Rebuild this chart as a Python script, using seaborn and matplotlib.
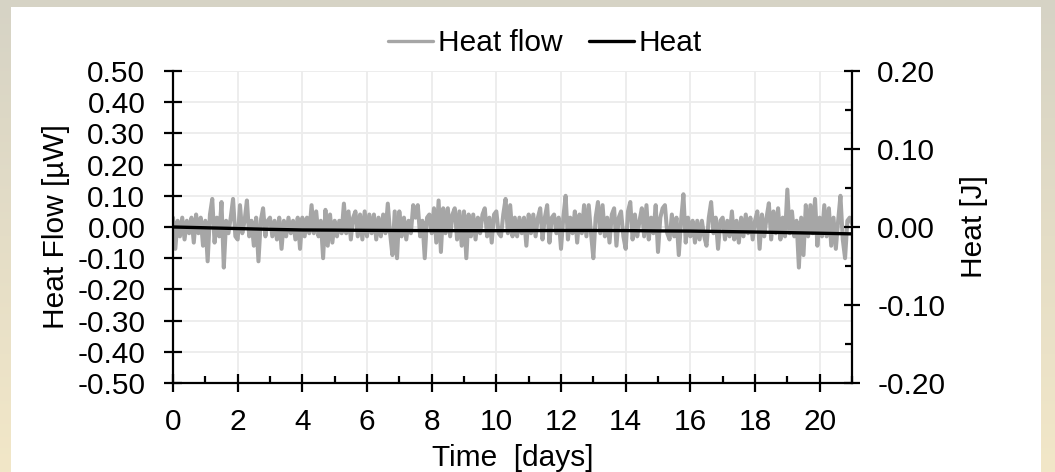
import numpy as np
import pandas as pd
import matplotlib
matplotlib.use("Agg")
import matplotlib.pyplot as plt
import seaborn as sns
from matplotlib.ticker import MultipleLocator, FuncFormatter
from matplotlib.patches import Rectangle
from matplotlib.lines import Line2D

# ---- data ----
samples_per_day = 14
heat_flow_rows = [
    [0.03, -0.07, 0.02, -0.03, 0.03, -0.04, 0.02, -0.02, 0.03, -0.05, 0.04, -0.02, 0.03, -0.06],
    [0.02, -0.11, 0.04, 0.09, -0.05, 0.03, -0.03, 0.08, -0.13, 0.02, -0.02, 0.03, 0.09, -0.03],
    [-0.04, 0.07, -0.02, 0.02, 0.085, -0.03, 0.02, -0.06, 0.03, -0.11, 0.02, 0.06, -0.03, 0.02],
    [0.03, -0.03, 0.02, -0.04, 0.03, -0.07, 0.02, -0.03, 0.03, -0.02, 0.02, -0.04, 0.03, -0.07],
    [0.03, -0.03, 0.03, -0.02, 0.07, -0.02, 0.05, -0.03, 0.02, -0.10, 0.055, -0.06, 0.04, -0.05],
    [0.02, -0.03, 0.02, -0.02, 0.075, -0.02, 0.05, -0.04, 0.03, 0.05, -0.03, 0.04, -0.04, 0.05],
    [-0.03, 0.04, -0.02, 0.04, -0.04, 0.03, -0.03, 0.04, -0.02, 0.075, -0.02, -0.09, 0.05, -0.10],
    [0.05, -0.03, 0.03, -0.04, 0.02, -0.02, 0.07, 0.03, 0.07, -0.03, 0.02, -0.10, 0.03, 0.04],
    [-0.02, 0.06, -0.05, 0.085, -0.08, 0.06, -0.02, 0.06, -0.03, 0.04, 0.06, -0.04, 0.05, -0.06],
    [0.05, -0.10, 0.04, -0.03, 0.04, -0.04, 0.03, -0.02, 0.04, 0.06, -0.03, 0.03, -0.05, 0.04],
    [0.05, -0.02, -0.03, 0.04, 0.09, -0.02, 0.07, -0.03, 0.03, -0.03, 0.03, -0.02, 0.03, -0.06],
    [0.04, -0.02, 0.04, -0.03, 0.03, 0.06, -0.04, 0.03, 0.07, -0.05, 0.03, 0.04, -0.02, 0.03],
    [-0.07, 0.03, 0.10, -0.04, 0.03, -0.02, 0.05, -0.05, 0.04, -0.02, 0.07, -0.03, 0.07, -0.02],
    [-0.10, 0.03, 0.08, -0.02, 0.07, -0.03, 0.03, -0.05, 0.04, 0.06, -0.06, 0.03, 0.05, -0.03],
    [-0.07, 0.05, 0.08, -0.04, 0.04, -0.03, 0.02, 0.06, -0.03, 0.07, -0.04, 0.03, -0.02, 0.07],
    [-0.08, 0.03, 0.06, 0.07, -0.02, -0.04, 0.04, -0.03, 0.03, -0.09, 0.02, 0.105, -0.05, 0.03],
    [-0.03, 0.02, -0.05, 0.02, -0.04, 0.02, -0.03, -0.06, 0.03, 0.08, -0.02, 0.03, -0.07, 0.02],
    [0.03, -0.04, 0.02, -0.03, 0.05, -0.04, 0.02, -0.05, 0.03, -0.03, 0.04, -0.02, 0.03, -0.04],
    [0.02, 0.05, -0.07, 0.04, -0.03, 0.03, 0.076, -0.04, 0.05, -0.02, 0.06, -0.04, 0.03, -0.03],
    [0.12, -0.02, 0.05, -0.03, 0.02, -0.13, 0.03, -0.09, 0.07, -0.03, 0.07, -0.02, 0.09, -0.06],
    [0.03, -0.03, 0.07, -0.03, 0.06, -0.06, 0.03, -0.07, 0.02, 0.10, -0.04, -0.10, 0.02, 0.03],
]
heat_flow_last = [0.01]
heat_days = list(range(22))
heat_J = [0.0, -0.001, -0.002, -0.003, -0.0038, -0.004, -0.0043, -0.0045, -0.0046, -0.0047,
          -0.0047, -0.0046, -0.0045, -0.0045, -0.0046, -0.005, -0.0052, -0.0058, -0.0064,
          -0.0072, -0.008, -0.0088]
x_ticks = [0, 2, 4, 6, 8, 10, 12, 14, 16, 18, 20]
legend_labels = ["Heat flow", "Heat"]

heat_flow = [v for row in heat_flow_rows for v in row] + heat_flow_last
flow_df = pd.DataFrame({"t": np.arange(len(heat_flow)) / samples_per_day, "q": heat_flow})
heat_df = pd.DataFrame({"t": heat_days, "Q": heat_J})

# ---- style ----
sns.set_style("white")
plt.rcParams["font.family"] = ["Liberation Sans", "DejaVu Sans"]
for k in ["text.color", "axes.labelcolor", "xtick.color", "ytick.color"]:
    plt.rcParams[k] = "black"
FS = 21.5
GRAY = "#a6a6a6"

W, H = 1055, 472
fig = plt.figure(figsize=(W / 100, H / 100), dpi=100)

# background frame (beige gradient + white panel)
bg = fig.add_axes([0, 0, 1, 1], zorder=-10)
top = np.array([214, 211, 197]) / 255
bot = np.array([242, 231, 200]) / 255
g = np.linspace(0, 1, 200)[:, None, None]
grad = top * (1 - g) + bot * g
grad = np.repeat(grad, 2, axis=1)
bg.imshow(grad, aspect="auto", extent=[0, 1, 0, 1], origin="upper")
bg.add_patch(Rectangle((11 / W, 0), (1041 - 11) / W, 1 - 7 / H, color="white", lw=0))
bg.set_xlim(0, 1); bg.set_ylim(0, 1)
bg.axis("off")

ax = fig.add_axes([173 / W, 1 - 383 / H, (852 - 173) / W, (383 - 71) / H])
ax.set_facecolor("none")
ax2 = ax.twinx()

sns.lineplot(data=flow_df, x="t", y="q", ax=ax, color=GRAY, lw=2.9, sort=False, legend=False)
sns.lineplot(data=heat_df, x="t", y="Q", ax=ax2, color="black", lw=2.4, sort=False, legend=False)

ax.set_xlim(0, 21)
ax.set_ylim(-0.5, 0.5)
ax2.set_ylim(-0.2, 0.2)

fmt = FuncFormatter(lambda v, p: f"{round(v, 2) + 0.0:.2f}")
ax.set_xticks(x_ticks)
ax.xaxis.set_minor_locator(MultipleLocator(1))
ax.yaxis.set_major_locator(MultipleLocator(0.1))
ax.yaxis.set_major_formatter(fmt)
ax2.yaxis.set_major_locator(MultipleLocator(0.1))
ax2.yaxis.set_minor_locator(MultipleLocator(0.05))
ax2.yaxis.set_major_formatter(fmt)

ax.grid(True, which="major", color="#ececec", lw=1.3)
ax.set_axisbelow(True)

for s in ["top", "right"]:
    ax.spines[s].set_visible(False)
for s in ["top", "left", "bottom"]:
    ax2.spines[s].set_visible(False)
for a in (ax, ax2):
    for s in a.spines.values():
        s.set_linewidth(1.6)
        s.set_color("black")

ax.tick_params(axis="x", which="major", direction="inout", length=13, width=1.6,
               labelsize=FS, pad=11.5, colors="black", bottom=True)
ax.tick_params(axis="x", which="minor", direction="in", length=5, width=1.6, bottom=True)
ax.tick_params(axis="y", which="major", direction="inout", length=12.5, width=1.6,
               labelsize=FS, pad=13.7, left=True)
ax2.tick_params(axis="y", which="major", direction="inout", length=12, width=1.6,
                labelsize=FS, pad=12.2, right=True)
ax2.tick_params(axis="y", which="minor", direction="in", length=5, width=1.6, right=True)

ax.set_xlabel("Time  [days]", fontsize=FS)
ax.xaxis.set_label_coords(0.5, -0.197)
ax.set_ylabel("Heat Flow [\u00b5W]", fontsize=FS)
ax.yaxis.set_label_coords(-0.152, 0.5)
ax2.set_ylabel("Heat [J]", fontsize=FS)
ax2.yaxis.set_label_coords(1.159, 0.5)

handles = [Line2D([], [], color=GRAY, lw=2.4), Line2D([], [], color="black", lw=2.4)]
fig.legend(handles, legend_labels, loc="center", bbox_to_anchor=(545 / W, 1 - 43 / H),
           ncol=2, frameon=False, fontsize=FS, handlelength=1.5, handletextpad=0.17,
           columnspacing=0.9, borderpad=0)

fig.savefig("out.png", dpi=100)
